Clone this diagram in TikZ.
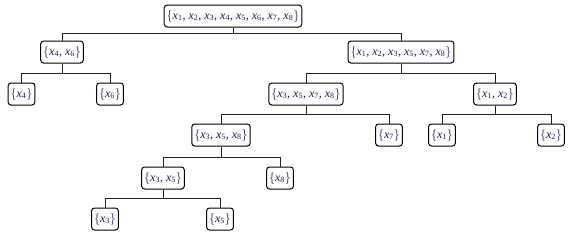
\documentclass[tikz,border=0pt]{standalone}
\usepackage{fontspec}
\setmainfont{Liberation Serif}
\definecolor{txt}{RGB}{20,28,80}
\definecolor{ln}{RGB}{30,30,30}
\tikzset{
  setbox/.style={draw=black, line width=1pt, rounded corners=3pt, fill=white,
    inner xsep=2.5pt, inner ysep=1pt, minimum height=22pt, text=txt,
    font=\fontsize{12}{14}\selectfont},
  conn/.style={draw=ln, line width=0.9pt}
}
\newcommand{\xs}[1]{\textit{x}\textsubscript{#1}}
\newcommand{\sset}[1]{$\left\{\mbox{#1}\right\}$}
\begin{document}
\begin{tikzpicture}[x=1pt,y=-1pt]
\useasboundingbox (0,0) rectangle (570,236);
% level 0
\node[setbox] (r) at (233,16) {\sset{\xs1, \xs2, \xs3, \xs4, \xs5, \xs6, \xs7, \xs8}};
% level 1
\node[setbox] (a) at (62,52) {\sset{\xs4, \xs6}};
\node[setbox] (b) at (401,52) {\sset{\xs1, \xs2, \xs3, \xs5, \xs7, \xs8}};
% level 2
\node[setbox] (a1) at (21.5,94) {\sset{\xs4}};
\node[setbox] (a2) at (110,94) {\sset{\xs6}};
\node[setbox] (b1) at (306,94) {\sset{\xs3, \xs5, \xs7, \xs8}};
\node[setbox] (b2) at (495,94) {\sset{\xs1, \xs2}};
% level 3
\node[setbox] (c1) at (221,135) {\sset{\xs3, \xs5, \xs8}};
\node[setbox] (c2) at (389,135) {\sset{\xs7}};
\node[setbox] (d1) at (442,135) {\sset{\xs1}};
\node[setbox] (d2) at (551,135) {\sset{\xs2}};
% level 4
\node[setbox] (e1) at (163,178) {\sset{\xs3, \xs5}};
\node[setbox] (e2) at (280,178) {\sset{\xs8}};
% level 5
\node[setbox] (f1) at (105,219) {\sset{\xs3}};
\node[setbox] (f2) at (220,219) {\sset{\xs5}};
% connectors
\coordinate (y0) at (0,33);
\coordinate (y1) at (0,73);
\coordinate (y2) at (0,114);
\coordinate (y3) at (0,157);
\coordinate (y4) at (0,198);
\draw[conn] (r.south) -- (r.south |- y0) -| (a.north);
\draw[conn] (r.south |- y0) -| (b.north);
\draw[conn] (a.south) -- (a.south |- y1) -| (a1.north);
\draw[conn] (a.south |- y1) -| (a2.north);
\draw[conn] (b.south) -- (b.south |- y1) -| (b1.north);
\draw[conn] (b.south |- y1) -| (b2.north);
\draw[conn] (b1.south) -- (b1.south |- y2) -| (c1.north);
\draw[conn] (b1.south |- y2) -| (c2.north);
\draw[conn] (b2.south) -- (b2.south |- y2) -| (d1.north);
\draw[conn] (b2.south |- y2) -| (d2.north);
\draw[conn] (c1.south) -- (c1.south |- y3) -| (e1.north);
\draw[conn] (c1.south |- y3) -| (e2.north);
\draw[conn] (e1.south) -- (e1.south |- y4) -| (f1.north);
\draw[conn] (e1.south |- y4) -| (f2.north);
\end{tikzpicture}
\end{document}
